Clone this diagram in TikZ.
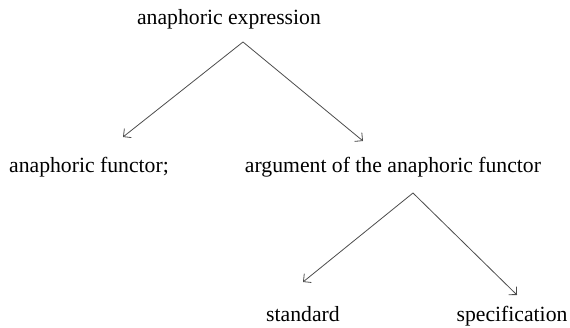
\documentclass[tikz,border=0pt]{standalone}
\usepackage{fontspec}
\setmainfont{Liberation Serif}
\usetikzlibrary{arrows.meta}
\begin{document}
\begin{tikzpicture}[x=1pt, y=-1pt, font=\fontsize{21.7}{26}\selectfont,
    branch/.style={-{Straight Barb[angle=90:8pt]}, gray!60!black, line width=0.8pt}]
    \useasboundingbox (0,0) rectangle (570,328);
    % labels
    \node[anchor=base] (expr) at (229,25) {anaphoric expression};
    \node[anchor=base] (func) at (89,173) {anaphoric functor;};
    \node[anchor=base] (arg) at (393,173) {argument of the anaphoric functor};
    \node[anchor=base] (std) at (303,322) {standard};
    \node[anchor=base] (spec) at (512,322) {specification};
    % fork points and arrow ends
    \coordinate (fork1) at (243,42);
    \coordinate (fork2) at (413,193);
    \coordinate (tofunc) at (123,137);
    \coordinate (toarg) at (363,141);
    \coordinate (tostd) at (303,282);
    \coordinate (tospec) at (517,295);
    \draw[branch] (fork1) -- (tofunc);
    \draw[branch] (fork1) -- (toarg);
    \draw[branch] (fork2) -- (tostd);
    \draw[branch] (fork2) -- (tospec);
\end{tikzpicture}
\end{document}
